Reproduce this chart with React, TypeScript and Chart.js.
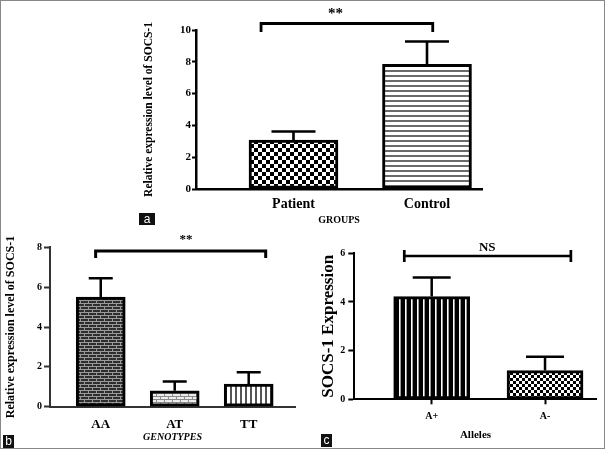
import React, { useEffect, useRef } from 'react';
import { Chart, registerables } from 'chart.js';

Chart.register(...registerables);

// ---------- data ----------
const GROUP_LABELS = ['Patient', 'Control'];
const GROUP_MEANS = [3.07, 7.84];
const GROUP_SEM = [0.55, 1.44];

const GENOTYPE_LABELS = ['AA', 'AT', 'TT'];
const GENOTYPE_MEANS = [5.5, 0.8, 1.14];
const GENOTYPE_SEM = [0.95, 0.46, 0.59];

const ALLELE_LABELS = ['A+', 'A-'];
const ALLELE_MEANS = [4.22, 1.18];
const ALLELE_SEM = [0.79, 0.57];

const SERIF = "'Liberation Serif', 'Times New Roman', Times, serif";
const SANS = "'Liberation Sans', Arial, sans-serif";

// ---------- patterns ----------
function makePattern(kind: string): CanvasPattern | string {
  const c = document.createElement('canvas');
  const g = c.getContext('2d');
  if (!g) return '#888';
  switch (kind) {
    case 'checker4': {
      c.width = 8; c.height = 8;
      g.fillStyle = '#fff'; g.fillRect(0, 0, 8, 8);
      g.fillStyle = '#000'; g.fillRect(0, 0, 4, 4); g.fillRect(4, 4, 4, 4);
      break;
    }
    case 'checker3': {
      c.width = 6; c.height = 6;
      g.fillStyle = '#fff'; g.fillRect(0, 0, 6, 6);
      g.fillStyle = '#000'; g.fillRect(0, 0, 3, 3); g.fillRect(3, 3, 3, 3);
      break;
    }
    case 'hlines': {
      c.width = 4; c.height = 5;
      g.fillStyle = '#fff'; g.fillRect(0, 0, 4, 5);
      g.fillStyle = '#6a6a6a'; g.fillRect(0, 0, 4, 2);
      break;
    }
    case 'vlinesWhite': {
      c.width = 5; c.height = 2;
      g.fillStyle = '#fff'; g.fillRect(0, 0, 5, 2);
      g.fillStyle = '#555'; g.fillRect(0, 0, 2, 2);
      break;
    }
    case 'vlinesBlack': {
      c.width = 6; c.height = 2;
      g.fillStyle = '#000'; g.fillRect(0, 0, 6, 2);
      g.fillStyle = '#fff'; g.fillRect(3, 0, 1, 2);
      g.fillStyle = '#999'; g.fillRect(4, 0, 1, 2);
      break;
    }
    case 'brickDark': {
      c.width = 8; c.height = 6;
      g.fillStyle = '#2e2e2e'; g.fillRect(0, 0, 8, 6);
      g.fillStyle = '#9a9a9a';
      g.fillRect(0, 0, 8, 1); g.fillRect(0, 3, 8, 1);
      g.fillRect(0, 0, 1, 3); g.fillRect(4, 3, 1, 3);
      break;
    }
    case 'brickLight': {
      c.width = 8; c.height = 6;
      g.fillStyle = '#ececec'; g.fillRect(0, 0, 8, 6);
      g.fillStyle = '#8a8a8a';
      g.fillRect(0, 0, 8, 1); g.fillRect(0, 3, 8, 1);
      g.fillRect(0, 0, 1, 3); g.fillRect(4, 3, 1, 3);
      break;
    }
    default:
      return '#888';
  }
  return g.createPattern(c, 'repeat') || '#888';
}

// ---------- annotation plugin (error bars + significance marks) ----------
const annotPlugin = {
  id: 'annot',
  afterDatasetsDraw(chart: any, _args: any, opts: any) {
    const ctx = chart.ctx as CanvasRenderingContext2D;
    const xs = chart.scales.x;
    const ys = chart.scales.y;
    const meta = chart.getDatasetMeta(0);
    const ds = chart.data.datasets[0];
    ctx.save();
    ctx.strokeStyle = '#000';
    ctx.lineCap = 'butt';
    ctx.lineWidth = opts.errWidth;
    meta.data.forEach((bar: any, i: number) => {
      const v = ds.data[i].y;
      const e = opts.errors[i];
      const x = bar.x;
      const yBar = ys.getPixelForValue(v);
      const yTop = ys.getPixelForValue(v + e);
      const half = opts.capPx / 2;
      ctx.beginPath();
      ctx.moveTo(x, yBar);
      ctx.lineTo(x, yTop);
      ctx.moveTo(x - half, yTop);
      ctx.lineTo(x + half, yTop);
      ctx.stroke();
    });

    const b = opts.bracket;
    ctx.lineWidth = b.lineWidth;
    ctx.lineJoin = 'miter';
    const px1 = xs.getPixelForValue(b.x1);
    const px2 = xs.getPixelForValue(b.x2);
    const py = ys.getPixelForValue(b.y);
    ctx.beginPath();
    if (b.kind === 'bracket') {
      const pl = ys.getPixelForValue(b.legY);
      ctx.moveTo(px1, pl);
      ctx.lineTo(px1, py);
      ctx.lineTo(px2, py);
      ctx.lineTo(px2, pl);
    } else {
      ctx.moveTo(px1, py);
      ctx.lineTo(px2, py);
      ctx.moveTo(px1, py - b.capPx);
      ctx.lineTo(px1, py + b.capPx);
      ctx.moveTo(px2, py - b.capPx);
      ctx.lineTo(px2, py + b.capPx);
    }
    ctx.stroke();
    ctx.fillStyle = '#000';
    ctx.font = b.font;
    ctx.textAlign = 'center';
    ctx.textBaseline = 'alphabetic';
    ctx.fillText(b.text, xs.getPixelForValue(b.textX), ys.getPixelForValue(b.textY));
    ctx.restore();
  },
};

// ---------- panel specs ----------
type Spec = {
  left: number; top: number; w: number; h: number;
  labels: string[]; values: number[]; errors: number[]; patterns: string[];
  padTop: number; padRight: number; yAxisW: number; xAxisH: number;
  xMin: number; xMax: number; yMax: number;
  barPx: number; barBorder: number; axisW: number; axisColor: string;
  yTickSize: number; yTickLen: number; yTickPad: number;
  yTitle: string; yTitleSize: number; yTitlePad: number;
  xTickSize: number; xTickPad: number; xTickMarks: boolean; xTickLen: number;
  xTitle: string; xTitleSize: number; xTitleItalic: boolean; xTitlePad: number;
  capPx: number; errWidth: number;
  bracket: any;
};

const PANEL_A: Spec = {
  left: 130, top: 0, w: 360, h: 230,
  labels: GROUP_LABELS, values: GROUP_MEANS, errors: GROUP_SEM, patterns: ['checker4', 'hlines'],
  padTop: 30, padRight: 8, yAxisW: 66, xAxisH: 41,
  xMin: 0.2697, xMax: 2.412, yMax: 10,
  barPx: 89, barBorder: 3, axisW: 2.5, axisColor: '#000',
  yTickSize: 11, yTickLen: 4, yTickPad: 1,
  yTitle: 'Relative expression level of SOCS-1', yTitleSize: 11.5, yTitlePad: 12,
  xTickSize: 14, xTickPad: 7, xTickMarks: false, xTickLen: 0,
  xTitle: 'GROUPS', xTitleSize: 10, xTitleItalic: false, xTitlePad: 4,
  capPx: 44, errWidth: 2.6,
  bracket: { kind: 'bracket', x1: 0.757, x2: 2.043, y: 10.41, legY: 9.87, lineWidth: 2.8, text: '**', textX: 1.315, textY: 10.77, font: `bold 15px ${SERIF}` },
};

const PANEL_B: Spec = {
  left: 0, top: 228, w: 305, h: 221,
  labels: GENOTYPE_LABELS, values: GENOTYPE_MEANS, errors: GENOTYPE_SEM, patterns: ['brickDark', 'brickLight', 'vlinesWhite'],
  padTop: 19.3, padRight: 10, yAxisW: 50, xAxisH: 42.3,
  xMin: 0.314, xMax: 3.626, yMax: 8,
  barPx: 49, barBorder: 3, axisW: 2, axisColor: '#333',
  yTickSize: 10, yTickLen: 6, yTickPad: 2,
  yTitle: 'Relative expression level of SOCS-1', yTitleSize: 12, yTitlePad: 3.8,
  xTickSize: 13, xTickPad: 10, xTickMarks: false, xTickLen: 0,
  xTitle: 'GENOTYPES', xTitleSize: 10, xTitleItalic: true, xTitlePad: 5.7,
  capPx: 24, errWidth: 2.5,
  bracket: { kind: 'bracket', x1: 0.931, x2: 3.23, y: 7.82, legY: 7.46, lineWidth: 3, text: '**', textX: 2.151, textY: 8.23, font: `bold 13px ${SERIF}` },
};

const PANEL_C: Spec = {
  left: 318, top: 228, w: 287, h: 221,
  labels: ALLELE_LABELS, values: ALLELE_MEANS, errors: ALLELE_SEM, patterns: ['vlinesBlack', 'checker3'],
  padTop: 25.3, padRight: 8.3, yAxisW: 36.3, xAxisH: 49.7,
  xMin: 0.317, xMax: 2.456, yMax: 6,
  barPx: 76, barBorder: 3, axisW: 2, axisColor: '#000',
  yTickSize: 10, yTickLen: 6, yTickPad: 3,
  yTitle: 'SOCS-1 Expression', yTitleSize: 17, yTitlePad: 0.8,
  xTickSize: 10, xTickPad: 5.7, xTickMarks: true, xTickLen: 5,
  xTitle: 'Alleles', xTitleSize: 11, xTitleItalic: false, xTitlePad: 7.4,
  capPx: 38, errWidth: 2.5,
  bracket: { kind: 'ns', x1: 0.758, x2: 2.228, y: 5.89, capPx: 6, lineWidth: 2.7, text: 'NS', textX: 1.49, textY: 6.11, font: `bold 13px ${SERIF}` },
};

function buildConfig(p: Spec): any {
  return {
    type: 'bar',
    data: {
      datasets: [
        {
          data: p.values.map((v, i) => ({ x: i + 1, y: v })),
          backgroundColor: p.patterns.map(makePattern),
          borderColor: '#000',
          borderWidth: p.barBorder,
          borderSkipped: false,
          barThickness: p.barPx,
        },
      ],
    },
    options: {
      responsive: false,
      animation: false,
      devicePixelRatio: 1,
      events: [],
      layout: { padding: { top: p.padTop, right: p.padRight, left: 0, bottom: 0 } },
      plugins: {
        legend: { display: false },
        tooltip: { enabled: false },
        annot: { errors: p.errors, capPx: p.capPx, errWidth: p.errWidth, bracket: p.bracket },
      },
      scales: {
        x: {
          type: 'linear',
          offset: false,
          min: p.xMin,
          max: p.xMax,
          afterBuildTicks: (s: any) => {
            s.ticks = p.labels.map((_, i) => ({ value: i + 1 }));
          },
          afterFit: (s: any) => {
            s.height = p.xAxisH;
          },
          ticks: {
            autoSkip: false,
            maxRotation: 0,
            color: '#000',
            padding: p.xTickPad,
            font: { family: SERIF, size: p.xTickSize, weight: 'bold' },
            callback: (v: any) => p.labels[Math.round(Number(v)) - 1] ?? '',
          },
          grid: p.xTickMarks
            ? { display: true, offset: false, drawOnChartArea: false, drawTicks: true, tickLength: p.xTickLen, tickColor: '#000', tickWidth: 2 }
            : { display: false, offset: false, drawTicks: false },
          border: { display: true, color: p.axisColor, width: p.axisW },
          title: {
            display: true,
            text: p.xTitle,
            color: '#000',
            font: { family: SERIF, size: p.xTitleSize, weight: 'bold', style: p.xTitleItalic ? 'italic' : 'normal' },
            padding: { top: 0, bottom: p.xTitlePad },
          },
        },
        y: {
          type: 'linear',
          min: 0,
          max: p.yMax,
          afterFit: (s: any) => {
            s.width = p.yAxisW;
          },
          ticks: {
            stepSize: 2,
            color: '#000',
            padding: p.yTickPad,
            font: { family: SERIF, size: p.yTickSize, weight: 'bold' },
          },
          grid: { display: true, drawOnChartArea: false, drawTicks: true, tickLength: p.yTickLen, tickColor: p.axisColor, tickWidth: 2 },
          border: { display: true, color: p.axisColor, width: p.axisW },
          title: {
            display: true,
            text: p.yTitle,
            color: '#000',
            font: { family: SERIF, size: p.yTitleSize, weight: 'bold' },
            padding: { top: p.yTitlePad, bottom: 0 },
          },
        },
      },
    },
    plugins: [annotPlugin],
  };
}

function Panel({ spec }: { spec: Spec }) {
  const ref = useRef<HTMLCanvasElement>(null);
  useEffect(() => {
    if (!ref.current) return;
    const chart = new Chart(ref.current, buildConfig(spec));
    return () => chart.destroy();
  }, [spec]);
  return (
    <canvas
      ref={ref}
      width={spec.w}
      height={spec.h}
      style={{ position: 'absolute', left: spec.left, top: spec.top, width: spec.w, height: spec.h }}
    />
  );
}

function Tag({ text, left, top, w, h }: { text: string; left: number; top: number; w: number; h: number }) {
  return (
    <div
      style={{
        position: 'absolute', left, top, width: w, height: h, background: '#111', color: '#fff',
        fontFamily: SANS, fontSize: 12, lineHeight: `${h}px`, textAlign: 'center',
      }}
    >
      {text}
    </div>
  );
}

export default function App() {
  return (
    <div style={{ position: 'absolute', left: 0, top: 0, width: 605, height: 449, background: '#fff', overflow: 'hidden' }}>
      <Panel spec={PANEL_A} />
      <Panel spec={PANEL_B} />
      <Panel spec={PANEL_C} />
      <Tag text="a" left={139} top={213} w={16} h={12} />
      <Tag text="b" left={3} top={435} w={11} h={13} />
      <Tag text="c" left={321} top={434} w={11} h={13} />
      <div
        style={{
          position: 'absolute', left: 0, top: 0, width: 605, height: 449, boxSizing: 'border-box',
          border: '1px solid #888', pointerEvents: 'none',
        }}
      />
    </div>
  );
}
